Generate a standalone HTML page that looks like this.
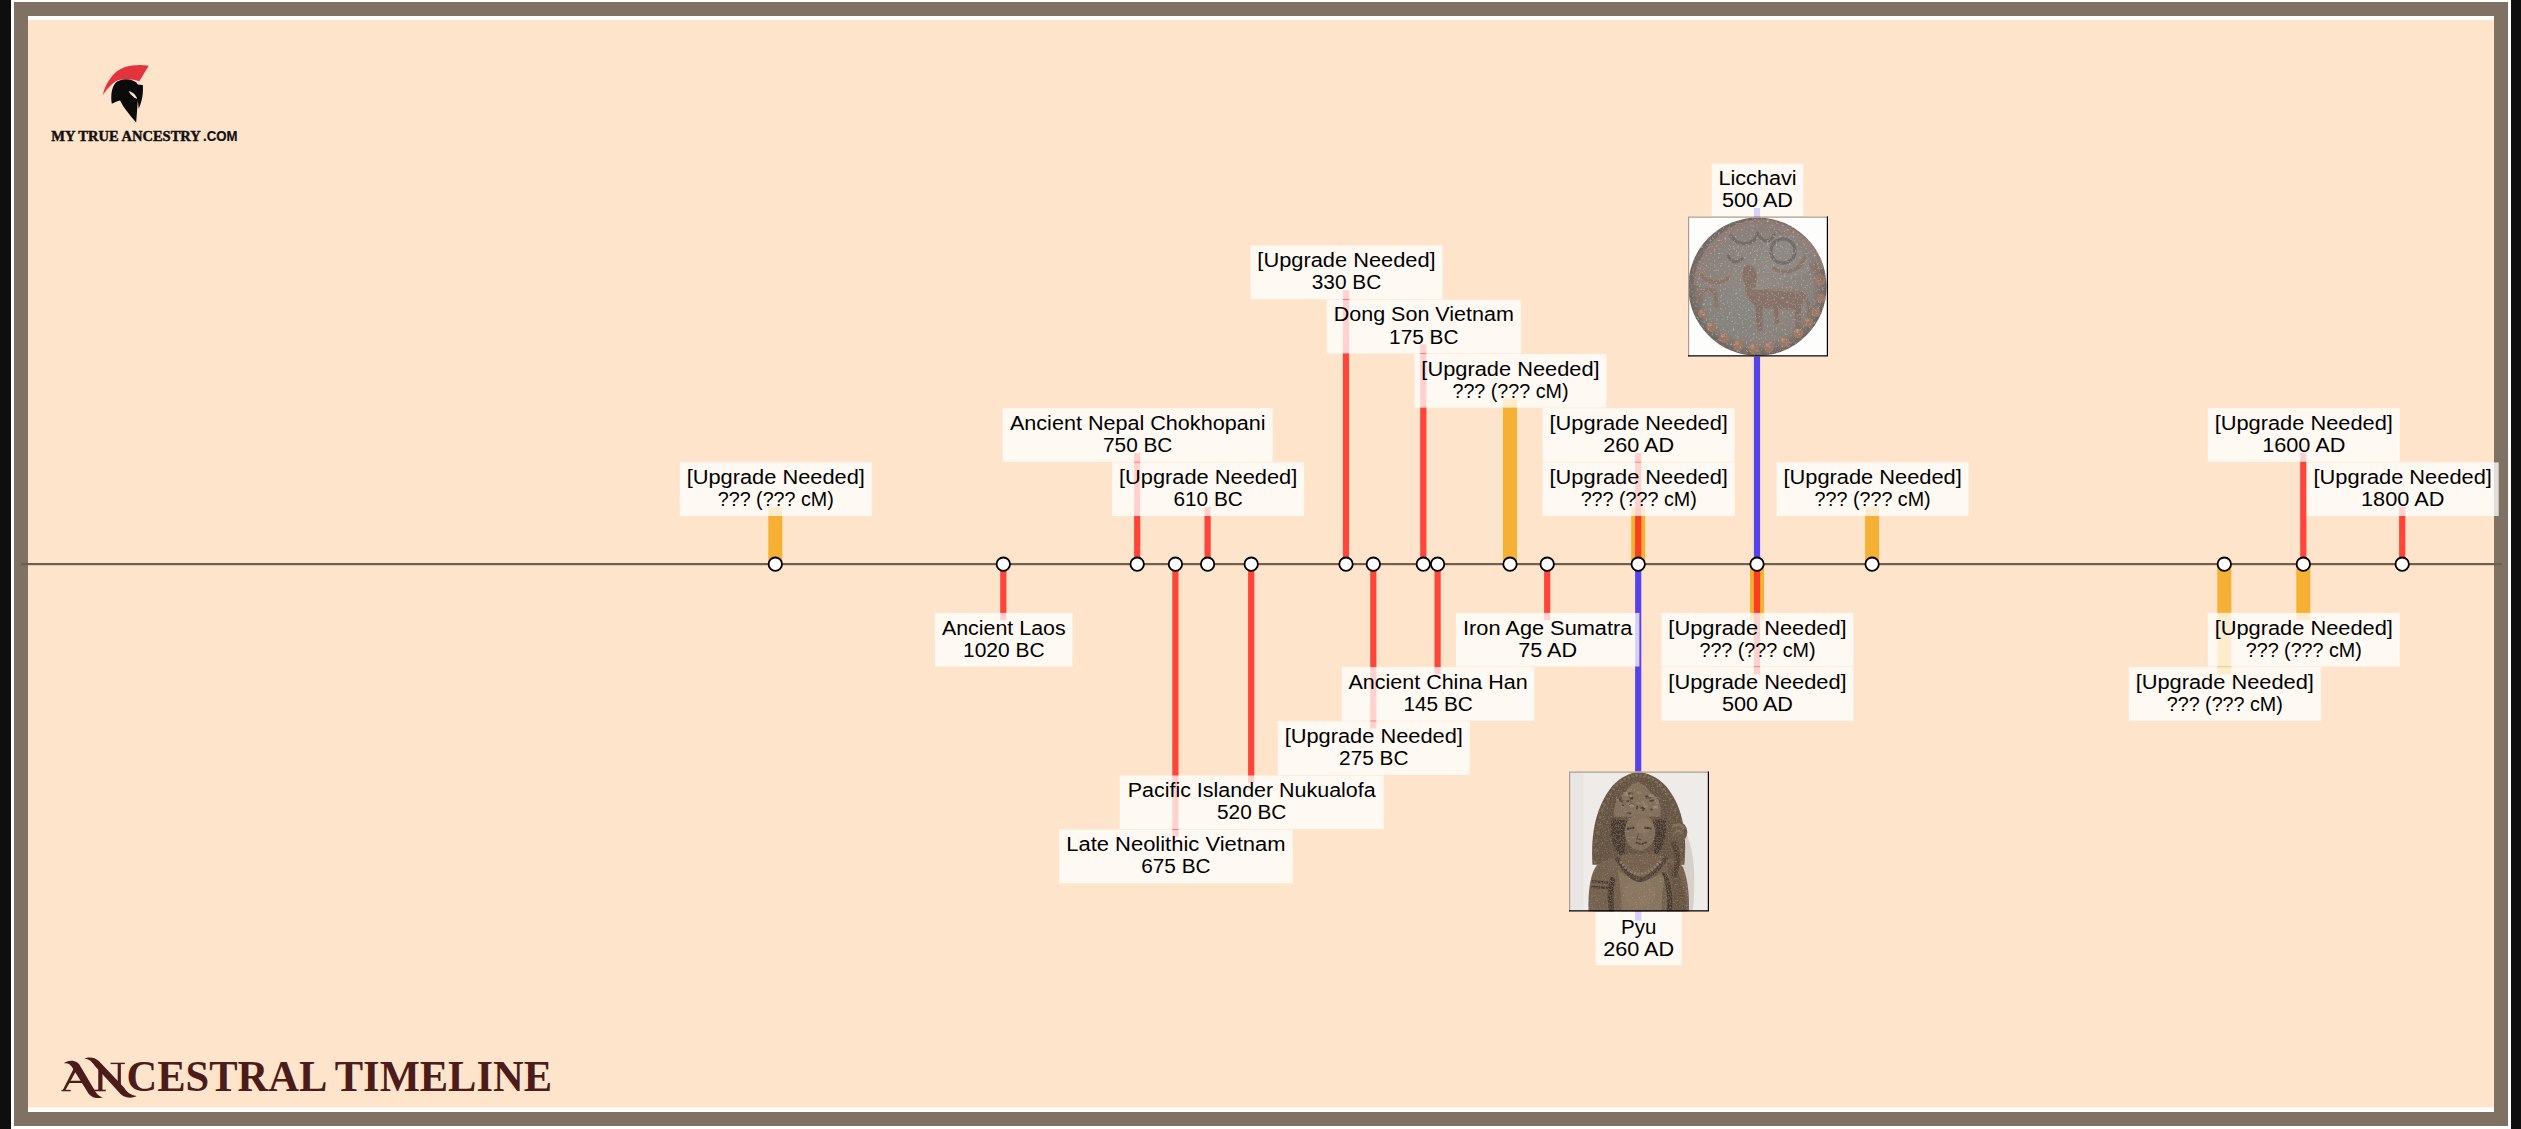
<!DOCTYPE html>
<html><head><meta charset="utf-8"><style>
html,body{margin:0;padding:0;width:2521px;height:1129px;overflow:hidden;background:#0e0e0e;}
svg{position:absolute;left:0;top:0;display:block;}
</style></head><body>
<svg width="2521" height="1129" viewBox="0 0 2521 1129">
<rect x="0" y="0" width="2521" height="1129" fill="#0e0e0e"/>
<rect x="11" y="0" width="2500" height="1129" fill="#ffffff"/>
<rect x="14" y="2" width="2494" height="1124" fill="#7f7265"/>
<rect x="28" y="16" width="2466" height="1096" fill="#ffe4cc"/>
<rect x="28" y="16" width="2466" height="4" fill="#ffffff"/>
<rect x="28" y="1107.5" width="2466" height="4.5" fill="#ffffff"/>
<rect x="21" y="563" width="2481" height="2.2" fill="#6e5f4f"/>
<g><rect x="768.3" y="507.0" width="14" height="57.0" fill="#f6b134"/><rect x="1503.0" y="398.6" width="14" height="165.4" fill="#f6b134"/><rect x="1631.2" y="507.0" width="14" height="57.0" fill="#f6b134"/><rect x="1865.1" y="507.0" width="14" height="57.0" fill="#f6b134"/><rect x="1750.0" y="564.0" width="14" height="56.1" fill="#f6b134"/><rect x="2217.3" y="564.0" width="14" height="110.3" fill="#f6b134"/><rect x="2296.3" y="564.0" width="14" height="56.1" fill="#f6b134"/></g>
<g opacity="0.86"><rect x="1134.1" y="452.8" width="6.2" height="111.2" fill="#ff2a22"/><rect x="1204.5" y="507.0" width="6.2" height="57.0" fill="#ff2a22"/><rect x="1342.9" y="290.2" width="6.2" height="273.8" fill="#ff2a22"/><rect x="1420.2" y="344.4" width="6.2" height="219.6" fill="#ff2a22"/><rect x="1635.1" y="452.8" width="6.2" height="111.2" fill="#ff2a22"/><rect x="2300.2" y="452.8" width="6.2" height="111.2" fill="#ff2a22"/><rect x="2399.1" y="507.0" width="6.2" height="57.0" fill="#ff2a22"/><rect x="1000.2" y="564.0" width="6.2" height="56.1" fill="#ff2a22"/><rect x="1172.3" y="564.0" width="6.2" height="272.9" fill="#ff2a22"/><rect x="1248.1" y="564.0" width="6.2" height="218.7" fill="#ff2a22"/><rect x="1370.2" y="564.0" width="6.2" height="164.5" fill="#ff2a22"/><rect x="1434.5" y="564.0" width="6.2" height="110.3" fill="#ff2a22"/><rect x="1544.1" y="564.0" width="6.2" height="56.1" fill="#ff2a22"/><rect x="1753.9" y="564.0" width="6.2" height="110.3" fill="#ff2a22"/><rect x="1753.9" y="208" width="6.2" height="356" fill="#3a28f6"/><rect x="1635.1" y="564" width="6.2" height="356.6" fill="#3a28f6"/></g>
<g fill="#ffffff" stroke="#000" stroke-width="1.8"><circle cx="775.3" cy="564.2" r="6.7"/><circle cx="1003.3" cy="564.2" r="6.7"/><circle cx="1137.2" cy="564.2" r="6.7"/><circle cx="1175.4" cy="564.2" r="6.7"/><circle cx="1207.6" cy="564.2" r="6.7"/><circle cx="1251.2" cy="564.2" r="6.7"/><circle cx="1346.0" cy="564.2" r="6.7"/><circle cx="1373.3" cy="564.2" r="6.7"/><circle cx="1423.3" cy="564.2" r="6.7"/><circle cx="1437.6" cy="564.2" r="6.7"/><circle cx="1510.0" cy="564.2" r="6.7"/><circle cx="1547.2" cy="564.2" r="6.7"/><circle cx="1638.2" cy="564.2" r="6.7"/><circle cx="1757.0" cy="564.2" r="6.7"/><circle cx="1872.1" cy="564.2" r="6.7"/><circle cx="2224.3" cy="564.2" r="6.7"/><circle cx="2303.3" cy="564.2" r="6.7"/><circle cx="2402.2" cy="564.2" r="6.7"/></g>
<g fill="rgba(255,255,255,0.76)"><rect x="679.8" y="462.4" width="192.0" height="53.6"/><rect x="1002.7" y="408.2" width="270.0" height="53.6"/><rect x="1112.1" y="462.4" width="192.0" height="53.6"/><rect x="1250.5" y="245.6" width="192.0" height="53.6"/><rect x="1326.8" y="299.8" width="194.0" height="53.6"/><rect x="1414.5" y="354.0" width="192.0" height="53.6"/><rect x="1542.7" y="462.4" width="192.0" height="53.6"/><rect x="1542.7" y="408.2" width="192.0" height="53.6"/><rect x="1776.6" y="462.4" width="192.0" height="53.6"/><rect x="2207.8" y="408.2" width="192.0" height="53.6"/><rect x="2306.7" y="462.4" width="192.0" height="53.6"/><rect x="935.0" y="612.9" width="137.5" height="53.6"/><rect x="1059.2" y="829.7" width="233.5" height="53.6"/><rect x="1119.7" y="775.5" width="264.0" height="53.6"/><rect x="1277.8" y="721.3" width="192.0" height="53.6"/><rect x="1341.8" y="667.1" width="192.5" height="53.6"/><rect x="1456.0" y="612.9" width="183.4" height="53.6"/><rect x="1661.5" y="612.9" width="192.0" height="53.6"/><rect x="1661.5" y="667.1" width="192.0" height="53.6"/><rect x="2128.8" y="667.1" width="192.0" height="53.6"/><rect x="2207.8" y="612.9" width="192.0" height="53.6"/><rect x="1711.7" y="163.6" width="91.6" height="52.7"/><rect x="1595.7" y="912" width="86" height="53.2"/></g>
<g font-family="'Liberation Sans', sans-serif" font-size="20" fill="#000" text-anchor="middle"><text x="775.8" y="484.0" textLength="178.3" lengthAdjust="spacingAndGlyphs">[Upgrade Needed]</text><text x="775.8" y="506.1" textLength="116.1" lengthAdjust="spacingAndGlyphs">??? (??? cM)</text><text x="1137.7" y="429.8" textLength="255.5" lengthAdjust="spacingAndGlyphs">Ancient Nepal Chokhopani</text><text x="1137.7" y="451.9" textLength="69.4" lengthAdjust="spacingAndGlyphs">750 BC</text><text x="1208.1" y="484.0" textLength="178.3" lengthAdjust="spacingAndGlyphs">[Upgrade Needed]</text><text x="1208.1" y="506.1" textLength="69.4" lengthAdjust="spacingAndGlyphs">610 BC</text><text x="1346.5" y="267.2" textLength="178.3" lengthAdjust="spacingAndGlyphs">[Upgrade Needed]</text><text x="1346.5" y="289.3" textLength="69.4" lengthAdjust="spacingAndGlyphs">330 BC</text><text x="1423.8" y="321.4" textLength="180.2" lengthAdjust="spacingAndGlyphs">Dong Son Vietnam</text><text x="1423.8" y="343.5" textLength="69.4" lengthAdjust="spacingAndGlyphs">175 BC</text><text x="1510.5" y="375.6" textLength="178.3" lengthAdjust="spacingAndGlyphs">[Upgrade Needed]</text><text x="1510.5" y="397.7" textLength="116.1" lengthAdjust="spacingAndGlyphs">??? (??? cM)</text><text x="1638.7" y="484.0" textLength="178.3" lengthAdjust="spacingAndGlyphs">[Upgrade Needed]</text><text x="1638.7" y="506.1" textLength="116.1" lengthAdjust="spacingAndGlyphs">??? (??? cM)</text><text x="1638.7" y="429.8" textLength="178.3" lengthAdjust="spacingAndGlyphs">[Upgrade Needed]</text><text x="1638.7" y="451.9" textLength="71.0" lengthAdjust="spacingAndGlyphs">260 AD</text><text x="1872.6" y="484.0" textLength="178.3" lengthAdjust="spacingAndGlyphs">[Upgrade Needed]</text><text x="1872.6" y="506.1" textLength="116.1" lengthAdjust="spacingAndGlyphs">??? (??? cM)</text><text x="2303.8" y="429.8" textLength="178.3" lengthAdjust="spacingAndGlyphs">[Upgrade Needed]</text><text x="2303.8" y="451.9" textLength="83.3" lengthAdjust="spacingAndGlyphs">1600 AD</text><text x="2402.7" y="484.0" textLength="178.3" lengthAdjust="spacingAndGlyphs">[Upgrade Needed]</text><text x="2402.7" y="506.1" textLength="83.3" lengthAdjust="spacingAndGlyphs">1800 AD</text><text x="1003.8" y="634.5" textLength="123.7" lengthAdjust="spacingAndGlyphs">Ancient Laos</text><text x="1003.8" y="656.6" textLength="81.6" lengthAdjust="spacingAndGlyphs">1020 BC</text><text x="1175.9" y="851.3" textLength="219.3" lengthAdjust="spacingAndGlyphs">Late Neolithic Vietnam</text><text x="1175.9" y="873.4" textLength="69.4" lengthAdjust="spacingAndGlyphs">675 BC</text><text x="1251.7" y="797.1" textLength="247.9" lengthAdjust="spacingAndGlyphs">Pacific Islander Nukualofa</text><text x="1251.7" y="819.2" textLength="69.4" lengthAdjust="spacingAndGlyphs">520 BC</text><text x="1373.8" y="742.9" textLength="178.3" lengthAdjust="spacingAndGlyphs">[Upgrade Needed]</text><text x="1373.8" y="765.0" textLength="69.4" lengthAdjust="spacingAndGlyphs">275 BC</text><text x="1438.1" y="688.7" textLength="179.1" lengthAdjust="spacingAndGlyphs">Ancient China Han</text><text x="1438.1" y="710.8" textLength="69.4" lengthAdjust="spacingAndGlyphs">145 BC</text><text x="1547.7" y="634.5" textLength="169.3" lengthAdjust="spacingAndGlyphs">Iron Age Sumatra</text><text x="1547.7" y="656.6" textLength="58.8" lengthAdjust="spacingAndGlyphs">75 AD</text><text x="1757.5" y="634.5" textLength="178.3" lengthAdjust="spacingAndGlyphs">[Upgrade Needed]</text><text x="1757.5" y="656.6" textLength="116.1" lengthAdjust="spacingAndGlyphs">??? (??? cM)</text><text x="1757.5" y="688.7" textLength="178.3" lengthAdjust="spacingAndGlyphs">[Upgrade Needed]</text><text x="1757.5" y="710.8" textLength="71.0" lengthAdjust="spacingAndGlyphs">500 AD</text><text x="2224.8" y="688.7" textLength="178.3" lengthAdjust="spacingAndGlyphs">[Upgrade Needed]</text><text x="2224.8" y="710.8" textLength="116.1" lengthAdjust="spacingAndGlyphs">??? (??? cM)</text><text x="2303.8" y="634.5" textLength="178.3" lengthAdjust="spacingAndGlyphs">[Upgrade Needed]</text><text x="2303.8" y="656.6" textLength="116.1" lengthAdjust="spacingAndGlyphs">??? (??? cM)</text><text x="1757.5" y="185.2" textLength="78.2" lengthAdjust="spacingAndGlyphs">Licchavi</text><text x="1757.5" y="207.3" textLength="71.0" lengthAdjust="spacingAndGlyphs">500 AD</text><text x="1638.7" y="933.6" textLength="35.3" lengthAdjust="spacingAndGlyphs">Pyu</text><text x="1638.7" y="955.7" textLength="71.0" lengthAdjust="spacingAndGlyphs">260 AD</text></g>
<defs>
<radialGradient id="cg" cx="0.5" cy="0.5" r="0.5">
<stop offset="0" stop-color="#948a84"/>
<stop offset="0.8" stop-color="#8a817b"/>
<stop offset="1" stop-color="#6d625d"/>
</radialGradient>
<filter id="spk" x="0" y="0" width="1" height="1">
<feTurbulence type="fractalNoise" baseFrequency="0.06" numOctaves="3" seed="7" result="n"/>
<feColorMatrix in="n" type="matrix" values="0 0 0 0 0.25  0 0 0 0 0.24  0 0 0 0 0.23  1.8 0 0 0 -0.9" result="d"/>
<feColorMatrix in="n" type="matrix" values="0 0 0 0 0.8  0 0 0 0 0.78  0 0 0 0 0.74  0 -1.2 0 0 0.5" result="l"/>
<feComposite in="d" in2="SourceGraphic" operator="in" result="dd"/>
<feComposite in="l" in2="SourceGraphic" operator="in" result="ll"/>
<feMerge><feMergeNode in="SourceGraphic"/><feMergeNode in="dd"/><feMergeNode in="ll"/></feMerge>
</filter>
<filter id="spk2" x="0" y="0" width="1" height="1">
<feComponentTransfer in="SourceGraphic" result="src"><feFuncR type="linear" slope="0.9"/><feFuncG type="linear" slope="0.9"/><feFuncB type="linear" slope="0.9"/></feComponentTransfer>
<feTurbulence type="fractalNoise" baseFrequency="0.08" numOctaves="2" seed="11" result="n"/>
<feColorMatrix in="n" type="matrix" values="0 0 0 0 0.22  0 0 0 0 0.18  0 0 0 0 0.14  0 1.5 0 0 -0.6" result="d"/>
<feColorMatrix in="n" type="matrix" values="0 0 0 0 0.75  0 0 0 0 0.68  0 0 0 0 0.6  -1.0 0 0 0 0.36" result="l"/>
<feComposite in="d" in2="SourceGraphic" operator="in" result="dd"/>
<feComposite in="l" in2="SourceGraphic" operator="in" result="ll"/>
<feMerge><feMergeNode in="src"/><feMergeNode in="dd"/><feMergeNode in="ll"/></feMerge>
</filter>
<clipPath id="coinclip"><circle cx="560" cy="570" r="542"/></clipPath>
</defs>
<g>
<rect x="1688" y="216.5" width="140" height="140" fill="#fdfdfc"/>
<g transform="translate(1686,214) scale(0.12755)">
<g filter="url(#spk)">
<circle cx="560" cy="570" r="542" fill="url(#cg)"/>
<g clip-path="url(#coinclip)">
<ellipse cx="400" cy="780" rx="280" ry="200" fill="#7d8883" opacity="0.3"/>
<ellipse cx="800" cy="330" rx="220" ry="170" fill="#8d918c" opacity="0.45"/>
<path d="M60 560 C70 300 300 50 580 40 C800 40 1000 180 1090 420 L1045 445 C965 250 800 110 580 105 C335 115 140 320 120 560 Z" fill="#98807a" opacity="0.7"/>
</g>
<g fill="#9e7764">
<circle cx="130" cy="780" r="36"/><circle cx="200" cy="885" r="40"/><circle cx="300" cy="970" r="42"/>
<circle cx="410" cy="1030" r="42"/><circle cx="530" cy="1055" r="42"/><circle cx="650" cy="1045" r="42"/>
<circle cx="770" cy="1005" r="42"/><circle cx="880" cy="935" r="40"/><circle cx="960" cy="850" r="38"/>
<circle cx="1020" cy="770" r="36"/><circle cx="1060" cy="660" r="36"/><circle cx="1050" cy="520" r="44"/>
</g>
<g fill="#c09a84" opacity="0.55">
<circle cx="120" cy="765" r="14"/><circle cx="190" cy="868" r="15"/><circle cx="290" cy="952" r="16"/>
<circle cx="400" cy="1012" r="16"/><circle cx="520" cy="1037" r="16"/><circle cx="640" cy="1027" r="16"/>
<circle cx="760" cy="987" r="16"/><circle cx="870" cy="918" r="15"/><circle cx="950" cy="833" r="14"/>
</g>
<path d="M470 560 C520 600 560 600 640 590 C740 580 860 590 910 620 C930 660 920 720 880 740 C800 760 700 740 620 740 C580 740 540 720 510 690 C480 650 450 610 470 560 Z" fill="#877065"/>
<path d="M470 570 C440 520 430 460 460 410 C480 390 520 400 540 430 C560 470 560 520 540 580 Z" fill="#866f64"/>
<path d="M540 700 L560 920 L600 920 L600 720 Z M850 720 L860 900 L900 900 L900 700 Z M690 730 L695 860 L730 860 L725 730 Z" fill="#866e63"/>
<path d="M900 620 C950 650 980 720 960 800" fill="none" stroke="#866f64" stroke-width="26"/>
<g fill="none" stroke="#8e6f62" stroke-width="30" stroke-linecap="round" opacity="0.85">
<path d="M110 470 C170 540 260 560 330 500"/>
<path d="M120 680 C90 610 160 570 230 610 L240 720"/>
<path d="M690 430 C790 480 900 440 930 340"/>
<path d="M980 400 C1020 430 1060 480 1060 520"/>
</g>
<g fill="none" stroke="#6f6460" stroke-width="26" stroke-linecap="round" opacity="0.8">
<circle cx="760" cy="290" r="95"/>
<path d="M350 170 C410 250 520 260 560 160"/>
<path d="M560 150 C600 230 660 230 690 160"/>
<path d="M330 330 C360 380 400 390 440 350"/>
</g>

<path d="M640 600 C740 590 840 600 895 625" fill="none" stroke="#b09282" stroke-width="14" opacity="0.45"/>
</g>
</g>
</g>
<g>
<rect x="1569" y="771.5" width="140" height="140" fill="#eeebe8"/>
<g transform="translate(1566,769) scale(0.12932)">
<rect x="25" y="25" width="110" height="1075" fill="#e9e5e2"/>
<path d="M880 420 C990 560 1010 800 980 1100 L860 1100 Z" fill="#d6d0cb"/>
<g filter="url(#spk2)">
<path d="M205 740 C190 500 230 290 360 130 C430 55 510 25 560 25 C615 25 700 55 770 130 C890 270 940 470 915 740 Z" fill="#6b5744"/>
<g fill="#84705a"><circle cx="227" cy="720" r="11"/><circle cx="229" cy="629" r="11"/><circle cx="233" cy="557" r="11"/><circle cx="241" cy="492" r="11"/><circle cx="251" cy="431" r="11"/><circle cx="264" cy="375" r="11"/><circle cx="280" cy="323" r="11"/><circle cx="299" cy="275" r="11"/><circle cx="320" cy="231" r="11"/><circle cx="343" cy="192" r="11"/><circle cx="368" cy="157" r="11"/><circle cx="394" cy="127" r="11"/><circle cx="423" cy="102" r="11"/><circle cx="452" cy="81" r="11"/><circle cx="483" cy="66" r="11"/><circle cx="514" cy="56" r="11"/><circle cx="546" cy="51" r="11"/><circle cx="578" cy="51" r="11"/><circle cx="610" cy="56" r="11"/><circle cx="641" cy="66" r="11"/><circle cx="672" cy="81" r="11"/><circle cx="701" cy="102" r="11"/><circle cx="730" cy="127" r="11"/><circle cx="756" cy="157" r="11"/><circle cx="781" cy="192" r="11"/><circle cx="804" cy="231" r="11"/><circle cx="825" cy="275" r="11"/><circle cx="844" cy="323" r="11"/><circle cx="860" cy="375" r="11"/><circle cx="873" cy="431" r="11"/><circle cx="883" cy="492" r="11"/><circle cx="891" cy="557" r="11"/><circle cx="895" cy="629" r="11"/><circle cx="897" cy="720" r="11"/></g>
<path d="M375 370 C360 280 400 220 450 190 C480 140 520 110 550 105 C590 110 630 140 660 190 C720 230 745 290 728 370 Z" fill="#8c7761"/>
<g><ellipse cx="593" cy="306" rx="19" ry="15" fill="#4f3f31"/><ellipse cx="661" cy="313" rx="11" ry="7" fill="#5a4838"/><ellipse cx="435" cy="249" rx="11" ry="11" fill="#5a4838"/><ellipse cx="487" cy="342" rx="19" ry="8" fill="#4f3f31"/><ellipse cx="443" cy="280" rx="10" ry="6" fill="#4f3f31"/><ellipse cx="465" cy="195" rx="22" ry="15" fill="#a58e76"/><ellipse cx="497" cy="192" rx="20" ry="12" fill="#5a4838"/><ellipse cx="692" cy="295" rx="22" ry="15" fill="#a58e76"/><ellipse cx="407" cy="237" rx="21" ry="9" fill="#a58e76"/><ellipse cx="493" cy="277" rx="8" ry="13" fill="#a58e76"/><ellipse cx="420" cy="225" rx="12" ry="13" fill="#5a4838"/><ellipse cx="549" cy="298" rx="9" ry="16" fill="#4f3f31"/><ellipse cx="694" cy="225" rx="14" ry="11" fill="#9a836b"/><ellipse cx="514" cy="271" rx="8" ry="6" fill="#5a4838"/><ellipse cx="593" cy="350" rx="10" ry="8" fill="#9a836b"/><ellipse cx="507" cy="225" rx="15" ry="14" fill="#4f3f31"/><ellipse cx="583" cy="314" rx="13" ry="9" fill="#9a836b"/><ellipse cx="506" cy="278" rx="21" ry="9" fill="#4f3f31"/><ellipse cx="497" cy="217" rx="10" ry="7" fill="#5a4838"/><ellipse cx="624" cy="215" rx="15" ry="13" fill="#4f3f31"/><ellipse cx="706" cy="262" rx="14" ry="8" fill="#a58e76"/><ellipse cx="656" cy="246" rx="14" ry="7" fill="#4f3f31"/><ellipse cx="649" cy="220" rx="11" ry="16" fill="#5a4838"/><ellipse cx="595" cy="315" rx="9" ry="10" fill="#5a4838"/><ellipse cx="418" cy="238" rx="10" ry="15" fill="#5a4838"/><ellipse cx="703" cy="245" rx="15" ry="13" fill="#9a836b"/><ellipse cx="485" cy="249" rx="21" ry="7" fill="#5a4838"/><ellipse cx="594" cy="255" rx="13" ry="7" fill="#a58e76"/><ellipse cx="560" cy="265" rx="15" ry="7" fill="#a58e76"/><ellipse cx="615" cy="289" rx="19" ry="10" fill="#a58e76"/><ellipse cx="659" cy="206" rx="22" ry="13" fill="#a58e76"/><ellipse cx="601" cy="272" rx="8" ry="11" fill="#a58e76"/><ellipse cx="501" cy="207" rx="12" ry="11" fill="#a58e76"/><ellipse cx="508" cy="285" rx="18" ry="14" fill="#a58e76"/><ellipse cx="669" cy="244" rx="13" ry="9" fill="#5a4838"/><ellipse cx="564" cy="185" rx="20" ry="15" fill="#9a836b"/><ellipse cx="488" cy="167" rx="17" ry="10" fill="#9a836b"/></g>
<path d="M350 380 C335 560 385 660 450 690 L470 400 Z" fill="#4a3a2d"/>
<path d="M772 380 C782 560 735 645 685 665 L665 400 Z" fill="#4a3a2d"/>
<ellipse cx="572" cy="488" rx="118" ry="142" fill="#8a745e"/>
<ellipse cx="600" cy="440" rx="62" ry="62" fill="#9a836c" opacity="0.7"/>
<path d="M470 462 L528 452 M605 452 L662 462" stroke="#45372c" stroke-width="15"/>
<path d="M540 566 C562 584 600 584 624 566" stroke="#45372c" stroke-width="13" fill="none"/>
<path d="M560 500 L548 540 L580 546" stroke="#5f4d3e" stroke-width="10" fill="none"/>
<ellipse cx="868" cy="488" rx="70" ry="80" fill="#6f5b47"/>
<path d="M822 452 C852 420 892 420 912 462 M840 500 C860 470 880 470 900 500" stroke="#8d7660" stroke-width="18" fill="none"/>
<path d="M175 1100 C168 950 190 800 240 745 C300 700 390 672 470 655 L680 655 C760 672 860 700 905 760 C945 860 955 1000 950 1100 Z" fill="#7a654f"/>
<path d="M300 760 C250 790 215 860 205 1100 L330 1100 C335 960 350 870 375 810 Z" fill="#7a6550"/>
<path d="M200 868 L326 878 M198 912 L328 920" stroke="#4f3f31" stroke-width="18"/>
<path d="M345 830 C318 920 318 1000 333 1100 L372 1100 C362 1000 366 920 382 850 Z" fill="#46372b"/>
<path d="M400 780 C420 900 430 1000 430 1100 L740 1100 C740 1000 750 900 770 790 C700 830 640 855 575 855 C510 855 450 825 400 780 Z" fill="#907a63"/>
<ellipse cx="570" cy="960" rx="120" ry="110" fill="#9b846c" opacity="0.55"/>
<path d="M740 800 C772 880 792 980 782 1100 L822 1100 C832 980 812 880 772 800 Z" fill="#46372b"/>
<path d="M790 720 C860 760 930 880 930 1100 L822 1100 C832 960 822 860 782 780 Z" fill="#6a5643"/>
<path d="M390 680 C450 785 520 855 575 855 C640 850 710 785 780 680" fill="none" stroke="#55443a" stroke-width="38"/>
<path d="M420 712 C470 782 520 812 575 812 C640 802 690 762 740 702" fill="none" stroke="#9a836b" stroke-width="22" stroke-dasharray="18 10"/>
<path d="M545 835 C560 880 590 880 605 835 Z" fill="#55443a"/>
<path d="M640 855 C650 950 650 1030 630 1100" stroke="#9a846c" stroke-width="12" stroke-dasharray="10 10" fill="none"/>
<path d="M830 565 C872 655 872 745 832 830" stroke="#54432f" stroke-width="42" fill="none"/>
</g>
</g>
</g>
<g fill="none" stroke-width="1.2">
<path d="M1688.6 356.5 L1688.6 217.1 L1828 217.1" stroke="#ab9d90"/>
<path d="M1688 355.9 L1827.4 355.9 L1827.4 216.5" stroke="#000"/>
<path d="M1569.6 911.5 L1569.6 772.1 L1709 772.1" stroke="#ab9d90"/>
<path d="M1569 910.9 L1708.4 910.9 L1708.4 771.5" stroke="#000"/>
</g>

<g transform="translate(90,55) scale(0.062)">
<path d="M210 645 C225 540 300 380 428 268 C530 190 700 140 948 172 L796 424 C720 392 560 380 462 405 C390 430 300 510 210 645 Z" fill="#e3333c"/>
<path d="M352 788 C332 660 345 530 410 450 C490 380 640 370 745 440 L772 475 L852 485 C862 600 845 745 785 865 L772 730 L745 1088 C640 970 545 860 485 735 C445 740 400 770 352 788 Z" fill="#0b0b0b"/>
<path d="M625 585 C690 595 742 645 762 710 C700 685 652 642 625 585 Z" fill="#fde4cc"/>
</g>
<text x="51.3" y="141" font-family="'Liberation Serif', serif" font-weight="bold" font-size="14.5" fill="#141010" stroke="#141010" stroke-width="0.45" textLength="149.5" lengthAdjust="spacingAndGlyphs">MY TRUE ANCESTRY</text>
<text x="203" y="141" font-family="'Liberation Sans', sans-serif" font-weight="bold" font-size="14" fill="#141010" stroke="#141010" stroke-width="0.2" textLength="34.5" lengthAdjust="spacingAndGlyphs">.COM</text>

<g fill="#4b1c19">
<g transform="translate(55,1050) scale(0.07937)">
<path d="M112 168 C150 130 228 120 282 158 C300 172 312 190 320 205 L492 495 C512 535 542 580 600 598 C520 622 440 592 410 530 L212 212 C192 180 160 160 112 168 Z"/>
<path d="M95 510 L245 215 L272 252 L128 512 Z"/>
<path d="M82 502 L198 502 L198 520 L82 520 Z"/>
<path d="M175 388 L335 388 L345 415 L170 415 Z"/>
<path d="M372 110 C420 80 505 95 550 135 L872 475 C897 515 937 565 1030 580 C940 627 848 587 812 540 L500 197 C466 147 430 112 372 110 Z"/>
<path d="M545 205 L598 255 L598 505 L545 505 Z"/>
<path d="M472 500 L640 500 L640 520 L472 520 Z"/>
<path d="M790 165 L830 165 L830 470 L790 430 Z"/>
<path d="M700 160 L880 160 L880 178 L700 178 Z"/>
</g>
<text x="126.5" y="1091" font-family="'Liberation Serif', serif" font-weight="bold" font-size="44" textLength="425.5" lengthAdjust="spacingAndGlyphs">CESTRAL TIMELINE</text>
</g>
</svg>
</body></html>
